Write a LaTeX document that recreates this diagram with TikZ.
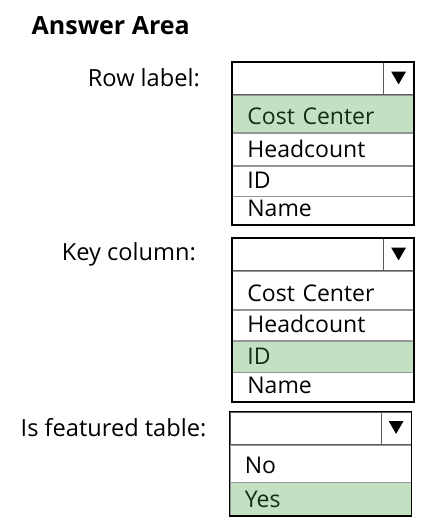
\documentclass[tikz,border=0pt]{standalone}
\usepackage{fontspec}
\setmainfont{Open Sans}
\usetikzlibrary{shapes.geometric}
\definecolor{pickgreen}{RGB}{196,224,194}
\definecolor{picktext}{RGB}{18,46,18}
\definecolor{rulegray}{RGB}{150,150,150}

\begin{document}
\begin{tikzpicture}[x=1pt,y=-1pt,
    heading/.style ={anchor=base west, inner sep=0pt, font=\fontsize{25}{30}\selectfont\bfseries},
    prompt/.style ={anchor=base east, inner sep=0pt, font=\fontsize{23.6}{28}\selectfont},
    listrow/.style ={draw=rulegray, line width=0.8pt, anchor=north west,
      inner xsep=15pt, inner ysep=0pt, text width=151pt, align=left,
      text depth=8pt, font=\fontsize{23}{27}\selectfont},
    headrow/.style ={draw=rulegray!60!black, line width=1pt, anchor=north west,
      minimum width=181pt, minimum height=32pt, inner sep=0pt},
    arrowcell/.style ={draw=rulegray!60!black, line width=0.8pt, anchor=north east,
      minimum width=30pt, minimum height=32pt, inner sep=0pt},
    dropmark/.style ={regular polygon, regular polygon sides=3, shape border rotate=180,
      fill=black, inner sep=0pt, minimum size=17pt, yshift=2.5pt},
    picked/.style ={fill=pickgreen, text=picktext},
    outline/.style ={draw=black, line width=1.6pt}]
   \useasboundingbox (0,0) rectangle (433,527);

   \node[heading] (title) at (31.5,35) {Answer Area};

   % Row label
   \node[prompt] (rllabel) at (200,86) {Row label:};
   \node[headrow] (rlhead) at (232,62) {};
   \node[arrowcell] (rlarrow) at (rlhead.north east) {};
   \node[dropmark] (rlmark) at (rlarrow.center) {};
   \node[listrow, picked, text height=29pt] (rlcost) at (rlhead.south west) {Cost Center};
   \node[listrow, text height=24pt] (rlcount) at (rlcost.south west) {Headcount};
   \node[listrow, text height=22pt] (rlid) at (rlcount.south west) {ID};
   \node[listrow, text height=20pt] (rlname) at (rlid.south west) {Name};
   \draw[outline] (rlhead.north west) rectangle (rlname.south east);

   % Key column
   \node[prompt] (kclabel) at (196,260.5) {Key column:};
   \node[headrow] (kchead) at (232,238) {};
   \node[arrowcell] (kcarrow) at (kchead.north east) {};
   \node[dropmark] (kcmark) at (kcarrow.center) {};
   \node[listrow, text height=30pt] (kccost) at (kchead.south west) {Cost Center};
   \node[listrow, text height=22pt] (kccount) at (kccost.south west) {Headcount};
   \node[listrow, picked, text height=23pt] (kcid) at (kccount.south west) {ID};
   \node[listrow, text height=21pt] (kcname) at (kcid.south west) {Name};
   \draw[outline] (kchead.north west) rectangle (kcname.south east);

   % Is featured table
   \node[prompt] (ftlabel) at (206.5,436) {Is featured table:};
   \node[headrow] (fthead) at (229.5,411.5) {};
   \node[arrowcell] (ftarrow) at (fthead.north east) {};
   \node[dropmark] (ftmark) at (ftarrow.center) {};
   \node[listrow, text height=29pt] (ftno) at (fthead.south west) {No};
   \node[listrow, picked, text height=25pt] (ftyes) at (ftno.south west) {Yes};
   \draw[outline] (fthead.north west) rectangle (ftyes.south east);
 \end{tikzpicture}
\end{document}
